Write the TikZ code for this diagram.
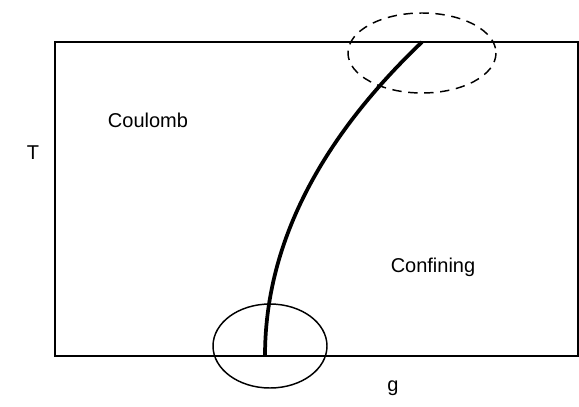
\documentclass[tikz,border=0pt]{standalone}
\usepackage{fontspec}
\setmainfont{Liberation Sans}
\usetikzlibrary{positioning}

\begin{document}
\begin{tikzpicture}[
  x=0.75pt,y=-0.75pt,
  font=\fontsize{15}{18}\selectfont,
  frame/.style={draw,line width=1.1pt},
  transline/.style={draw,line width=2.8pt},
  fixpt/.style={draw,line width=1.1pt},
  uvpt/.style={draw,line width=1.1pt,dash pattern=on 7pt off 5pt},
  lbl/.style={inner sep=1pt}]

\useasboundingbox (0,0) rectangle (579,407);

% --- phase diagram frame: g horizontal, T vertical ---
\coordinate (SW) at (55,356);
\coordinate (NE) at (578,42);
\draw[frame] (SW) rectangle (NE);
\node[lbl] (Tlab) at (33,153) {T};
\node[lbl] (glab) at (393,388) {g};

% --- transition line from the weak-coupling end up to the top edge ---
\coordinate (Bot) at (265,356);
\coordinate (Top) at (422,42);
\draw[transline] (Bot) .. controls (265,230) and (335,125) .. (Top);

% --- regions ---
\node[lbl] (coul) at (148,120) {Coulomb};
\node[lbl] (conf) at (433,267) {Confining};

% --- marked end points: solid at T=0, dashed at the top ---
\draw[fixpt] (270,346) ellipse [x radius=57,y radius=42];
\draw[uvpt] (422,53) ellipse [x radius=74,y radius=40];

\end{tikzpicture}
\end{document}
